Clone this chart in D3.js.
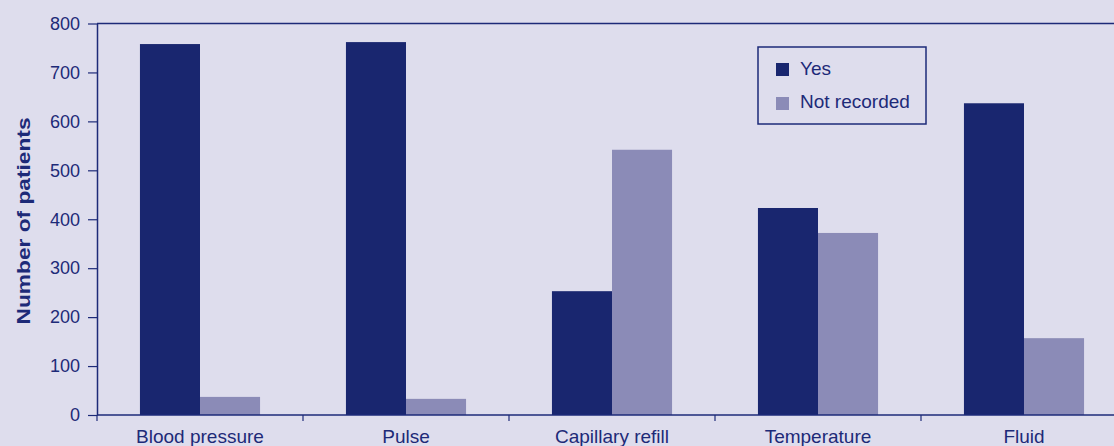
<!DOCTYPE html>
<html><head><meta charset="utf-8">
<script src="https://cdn.jsdelivr.net/npm/d3@7/dist/d3.min.js"></script>
<style>html,body{margin:0;padding:0;background:#dedded;overflow:hidden}</style>
</head><body>
<svg id="c" width="1114" height="446"></svg>
<script>
const categories = ["Blood pressure","Pulse","Capillary refill","Temperature","Fluid"];
const seriesNames = ["Yes","Not recorded"];
const yesValues = [758, 762, 253, 423, 637];
const notRecordedValues = [37, 33, 542, 372, 157];
const yTicks = [0,100,200,300,400,500,600,700,800];

(function(){
const colors = {"Yes":"#19266f","Not recorded":"#8b8bb7"};
const ink = "#1d2a78";
const font = "Liberation Sans, Arial, sans-serif";
const svg = d3.select("#c");
svg.append("rect").attr("width",1114).attr("height",446).attr("fill","#dedded");

const mLeft = 97, mTop = 23.5, mBottom = 415, step = 206;
const x0 = d3.scaleBand().domain(categories).range([mLeft, mLeft + step*categories.length])
  .paddingInner(0.417).paddingOuter(0.2085);
const x1 = d3.scaleBand().domain(seriesNames).range([0, x0.bandwidth()]);
const y = d3.scaleLinear().domain([0,800]).range([mBottom, mTop]);

const data = categories.map((c,i)=>({cat:c, vals:[{k:"Yes",v:yesValues[i]},{k:"Not recorded",v:notRecordedValues[i]}]}));

const g = svg.selectAll("g.cat").data(data).join("g").attr("class","cat").attr("transform",d=>`translate(${x0(d.cat)},0)`);
g.selectAll("rect").data(d=>d.vals).join("rect")
  .attr("x",d=>x1(d.k)).attr("width",x1.bandwidth())
  .attr("y",d=>y(d.v)).attr("height",d=>mBottom-y(d.v))
  .attr("fill",d=>colors[d.k]);

svg.append("line").attr("x1",mLeft).attr("x2",1114).attr("y1",mTop).attr("y2",mTop).attr("stroke",ink).attr("stroke-width",1.5);

const yAxis = svg.append("g").attr("transform",`translate(${mLeft},0)`)
  .call(d3.axisLeft(y).tickValues(yTicks).tickSize(9).tickPadding(8).tickSizeOuter(0));
yAxis.select(".domain").attr("stroke",ink).attr("stroke-width",1.5);
yAxis.selectAll(".tick line").attr("stroke",ink).attr("stroke-width",1.2);
yAxis.selectAll(".tick text").attr("fill",ink).style("font-family",font).style("font-size","18px");

const xScaleAxis = d3.scalePoint().domain(d3.range(categories.length+1)).range([mLeft, mLeft+step*categories.length]);
svg.append("line").attr("x1",mLeft).attr("x2",1114).attr("y1",mBottom).attr("y2",mBottom).attr("stroke",ink).attr("stroke-width",1.5);
svg.selectAll("line.xt").data(d3.range(categories.length+1)).join("line").attr("class","xt")
  .attr("x1",d=>xScaleAxis(d)).attr("x2",d=>xScaleAxis(d)).attr("y1",mBottom).attr("y2",mBottom+6)
  .attr("stroke",ink).attr("stroke-width",1.2);
svg.selectAll("text.xl").data(categories).join("text").attr("class","xl")
  .attr("x",d=>x0(d)+x0.bandwidth()/2)
  .attr("y",443).attr("text-anchor","middle").attr("fill",ink)
  .style("font-family",font).style("font-size","19px").text(d=>d);

svg.append("text").attr("transform","translate(30,221) rotate(-90)").attr("text-anchor","middle")
  .attr("fill",ink).style("font-family",font).style("font-size","18px").style("font-weight","bold")
  .attr("textLength",207).attr("lengthAdjust","spacingAndGlyphs")
  .text("Number of patients");

const lg = svg.append("g");
lg.append("rect").attr("x",758).attr("y",47).attr("width",168).attr("height",77).attr("fill","none").attr("stroke",ink).attr("stroke-width",1.5);
seriesNames.forEach((s,i)=>{
  lg.append("rect").attr("x",776).attr("y",63+i*34).attr("width",13).attr("height",13).attr("fill",colors[s]);
  lg.append("text").attr("x",800).attr("y",74.5+i*33.5).attr("fill",ink)
    .style("font-family",font).style("font-size","19px").text(s);
});
})();
</script>
</body></html>
